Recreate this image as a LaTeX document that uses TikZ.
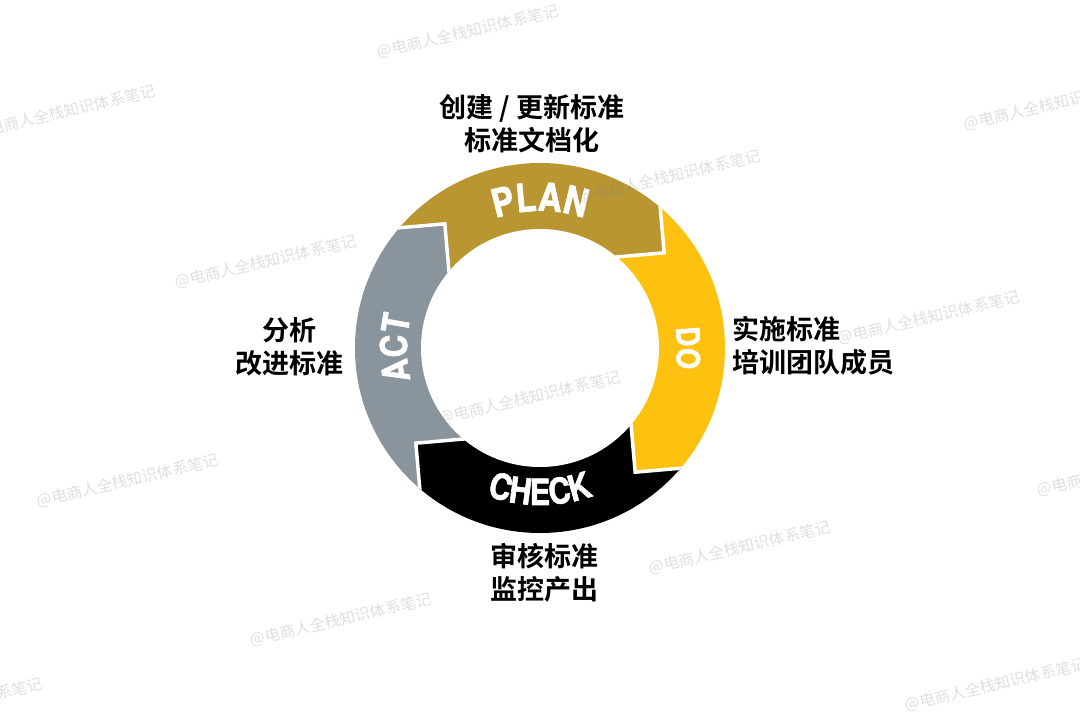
\documentclass[tikz,border=0pt]{standalone}
\usepackage{fontspec}
\newfontfamily\cjkfont{Noto Sans CJK SC Bold}
\newfontfamily\markfont{Noto Sans CJK SC}
\newfontfamily\pdcafont{TeX Gyre Heros}[FakeStretch=0.85, BoldFeatures={FakeBold=1.6}]
\usetikzlibrary{decorations.text}
\definecolor{planc}{RGB}{185,150,50}
\definecolor{doc}{RGB}{253,194,16}
\definecolor{checkc}{RGB}{0,0,0}
\definecolor{actc}{RGB}{137,148,156}

\begin{document}
\begin{tikzpicture}[x=1pt,y=1pt]
	\tikzset{note/.style={font=\cjkfont\fontsize{27}{33}\selectfont, align=center, inner sep=0pt, text=black}};
	\tikzset{wmark/.style={font=\markfont\fontsize{15.5}{15.5}\selectfont, text=black!50, text opacity=0.25, rotate=13, inner sep=0pt}};
	\tikzset{stage/.style={decorate, decoration={text along path, text align=center, text={#1}}}};
	\fill[white] (-540,-373) rectangle (540,348);
	\useasboundingbox (-540,-373) rectangle (540,348);
	% Ring
	\begin{scope}
		\clip (0,0) circle (185);
		\foreach \ang/\col in {0/planc, -90/doc, -180/checkc, -270/actc}
			\fill[\col, rotate=\ang+5] (132,84) -- (132,400) -- (-400,400) -- (-400,132) -- (-84,132) -- (-84,0) -- (0,0) -- (0,84) -- cycle;
		\foreach \ang in {0, -90, -180, -270}
			\draw[white, line width=3.5, rotate=\ang+5] (132,400) -- (132,84) -- (0,84);
		\fill[white] (0,0) circle (119);
	\end{scope}
	% Stage names
	\path[stage={|\pdcafont\bfseries\fontsize{39}{39}\selectfont\color{white}|PLAN}] (130:137) arc[start angle=130, end angle=50, radius=137];
	\path[stage={|\pdcafont\bfseries\fontsize{32}{32}\selectfont\color{white}|DO}] (20:137) arc[start angle=20, end angle=-20, radius=137];
	\path[stage={|\pdcafont\bfseries\fontsize{36}{36}\selectfont\color{white}|CHECK}] (-130:157) arc[start angle=-130, end angle=-50, radius=157];
	\path[stage={|\pdcafont\bfseries\fontsize{37}{37}\selectfont\color{white}|ACT}] (200:133) arc[start angle=200, end angle=160, radius=133];
	% Place nodes
	\node[note] (plantxt) at (-8,224) {创建 / 更新标准\\标准文档化};
	\node[note, align=left, anchor=west] (dotxt) at (192,2) {实施标准\\培训团队成员};
	\node[note] (checktxt) at (5,-225) {审核标准\\监控产出};
	\node[note] (acttxt) at (-250,1) {分析\\改进标准};
	% Watermarks
	\foreach \x/\y in {-72/316, -475/236, 515/244, 130/171, -274/86, 389/30, -10/-50, -412/-133, 588/-122, 200/-200, -199/-272, 456/-337, -588/-357}
		\node[wmark] at (\x,\y) {@电商人全栈知识体系笔记};
\end{tikzpicture}
\end{document}
